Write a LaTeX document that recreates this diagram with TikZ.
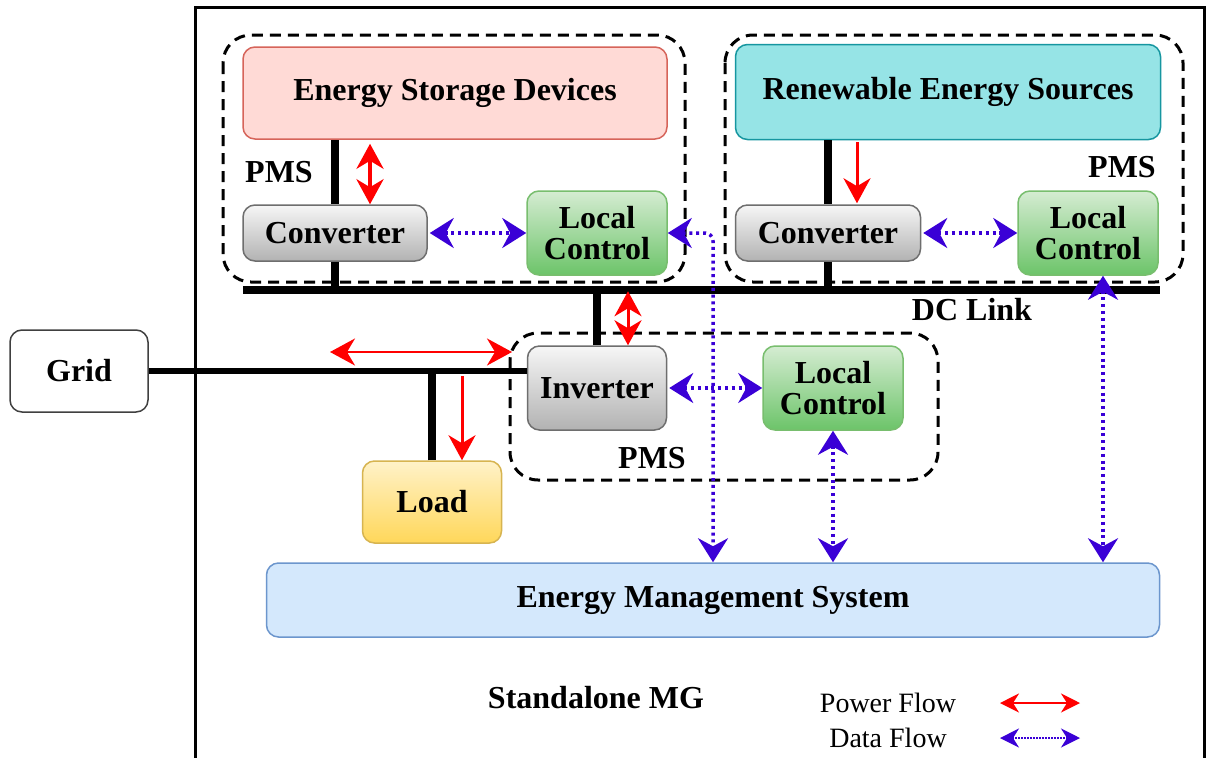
\documentclass[tikz,border=0pt]{standalone}
\usepackage{fontspec}
\setmainfont{Liberation Serif}
\usetikzlibrary{arrows.meta}
\definecolor{pred}{RGB}{255,0,0}
\definecolor{dblue}{RGB}{58,0,214}
\definecolor{esdfill}{RGB}{255,218,214}
\definecolor{esdline}{RGB}{214,100,90}
\definecolor{resfill}{RGB}{150,228,230}
\definecolor{resline}{RGB}{22,150,160}
\definecolor{emsfill}{RGB}{212,232,252}
\definecolor{emsline}{RGB}{108,150,205}
\definecolor{lctop}{RGB}{213,236,210}
\definecolor{lcbot}{RGB}{108,196,105}
\definecolor{lcline}{RGB}{120,190,110}
\definecolor{cvtop}{RGB}{246,246,246}
\definecolor{cvbot}{RGB}{178,178,178}
\definecolor{cvline}{RGB}{110,110,110}
\definecolor{ldtop}{RGB}{255,242,200}
\definecolor{ldbot}{RGB}{255,215,90}
\definecolor{ldline}{RGB}{215,180,80}
\tikzset{
  box/.style={rounded corners=12pt, line width=1.5pt, align=center,
    font=\bfseries\fontsize{32}{31}\selectfont, inner sep=0pt},
  convbox/.style={box, draw=cvline, top color=cvtop, bottom color=cvbot},
  lcbox/.style={box, draw=lcline, top color=lctop, bottom color=lcbot,
    minimum width=140pt, minimum height=84pt},
  lbl/.style={font=\bfseries\fontsize{32}{31}\selectfont, inner sep=0pt},
  leg/.style={font=\fontsize{28}{28}\selectfont, inner sep=0pt},
  pmsbox/.style={dash pattern=on 11pt off 7pt, line width=3pt, rounded corners=28pt},
  bus/.style={line width=8pt},
  rtip/.style={Stealth[length=25pt,width=27pt,inset=8pt]},
  btip/.style={Stealth[length=24pt,width=30pt,inset=8pt]},
  ltip/.style={Stealth[length=19pt,width=19pt,inset=6pt]},
  pw/.style={draw=pred, line width=3pt, {Stealth[length=25pt,width=27pt,inset=8pt]}-{Stealth[length=25pt,width=27pt,inset=8pt]}},
  pwone/.style={draw=pred, line width=3pt, -{Stealth[length=25pt,width=27pt,inset=8pt]}},
  dat/.style={draw=dblue, line width=3.5pt, dash pattern=on 3pt off 3.8pt,
    {Stealth[length=24pt,width=30pt,inset=8pt]}-{Stealth[length=24pt,width=30pt,inset=8pt]}},
  pwleg/.style={draw=pred, line width=2pt,
    {Stealth[length=19pt,width=19pt,inset=6pt]}-{Stealth[length=19pt,width=19pt,inset=6pt]}},
  datleg/.style={draw=dblue, line width=1.5pt, dash pattern=on 1.5pt off 1.5pt,
    {Stealth[length=19pt,width=19pt,inset=6pt]}-{Stealth[length=19pt,width=19pt,inset=6pt]}},
}
\begin{document}
\begin{tikzpicture}[x=1pt,y=-1pt]
\useasboundingbox (0,0) rectangle (1208,758);
\fill[white] (0,0) rectangle (1208,758);
% outer frame
\draw[line width=3pt] (195,800) -- (195,7) -- (1204,7) -- (1204,800);
% PMS dashed groups
\draw[pmsbox] (223,35) rectangle (685,282);
\draw[pmsbox] (725,35) rectangle (1183,282);
\draw[pmsbox] (510,333) rectangle (938,480);

% nodes
\node[box, draw=esdline, fill=esdfill, minimum width=424pt, minimum height=92pt] (esd) at (455,93) {Energy Storage Devices};
\node[box, draw=resline, fill=resfill, minimum width=425pt, minimum height=95pt] (res) at (948,92) {Renewable Energy Sources};
\node[convbox, minimum width=184pt, minimum height=56pt] (cv1) at (335,233) {Converter};
\node[convbox, minimum width=185pt, minimum height=56pt] (cv2) at (828,233) {Converter};
\node[lcbox] (lc1) at (597,233) {Local\\Control};
\node[lcbox] (lc2) at (1088,233) {Local\\Control};
\node[convbox, minimum width=139pt, minimum height=84pt] (inv) at (597,388) {Inverter};
\node[lcbox] (lc3) at (833,388) {Local\\Control};
\node[box, draw=ldline, top color=ldtop, bottom color=ldbot, minimum width=139pt, minimum height=82pt] (load) at (432,502) {Load};
\node[box, draw=black!75, fill=white, minimum width=138pt, minimum height=82pt] (grid) at (79,371) {Grid};
\node[box, draw=emsline, fill=emsfill, minimum width=893pt, minimum height=74pt] (ems) at (713,600) {Energy Management System};

% labels
\node[lbl] (pms1) at (279,172) {PMS};
\node[lbl] (pms2) at (1122,167) {PMS};
\node[lbl] (pms3) at (652,458) {PMS};
\node[lbl] (dclink) at (972,310) {DC Link};
\node[lbl] (smg) at (596,698) {Standalone MG};
\node[leg] (pf) at (888,703) {Power Flow};
\node[leg] (df) at (888,738) {Data Flow};

% DC bus
\coordinate (busL) at (243,290);
\coordinate (busR) at (1160,290);
\draw[bus] (busL) -- (busR);
\draw[bus] (cv1.north) -- (cv1.north |- esd.south);
\draw[bus] (cv1.south) -- (cv1.south |- busL);
\draw[bus] (cv2.north) -- (cv2.north |- res.south);
\draw[bus] (cv2.south) -- (cv2.south |- busL);
\draw[bus] (inv.north) -- (inv.north |- busL);
% AC side
\draw[line width=6.5pt] (grid.east) -- (grid.east -| inv.west);
\draw[bus] (load.north) -- (load.north |- grid.east);

% power flows
\draw[pw, line width=4pt] (esd.south -| 370,0) ++(0,4) -- (cv1.north -| 370,0);
\draw[pwone] (res.south -| 857,0) ++(0,2) -- ([yshift=1pt]cv2.north -| 857,0);
\draw[pw] (inv.north -| 628,0) ++(0,-54) -- (inv.north -| 628,0);
\draw[pw, line width=2.5pt] (330,352) -- (512,352);
\draw[pwone] (grid.east -| 462,0) ++(0,5) -- (load.north -| 462,0);

% data flows
\draw[dat] (cv1.east) ++(2,0) -- (lc1.west);
\draw[dat] (cv2.east) ++(2,0) -- (lc2.west);
\draw[dat] (inv.east) ++(2,0) -- (lc3.west);
\draw[dat, rounded corners=8pt] (lc1.east) -- (lc1.east -| 713,0) -- (ems.north -| 713,0);
\draw[dat] (lc3.south) -- (lc3.south |- ems.north);
\draw[dat] (lc2.south -| 1103,0) -- (ems.north -| 1103,0);

% legend
\coordinate (pfa) at (1000,703);
\coordinate (pfb) at (1080,703);
\coordinate (dfa) at (1000,738);
\coordinate (dfb) at (1080,738);
\draw[pwleg] (pfa) -- (pfb);
\draw[datleg] (dfa) -- (dfb);
\end{tikzpicture}
\end{document}
